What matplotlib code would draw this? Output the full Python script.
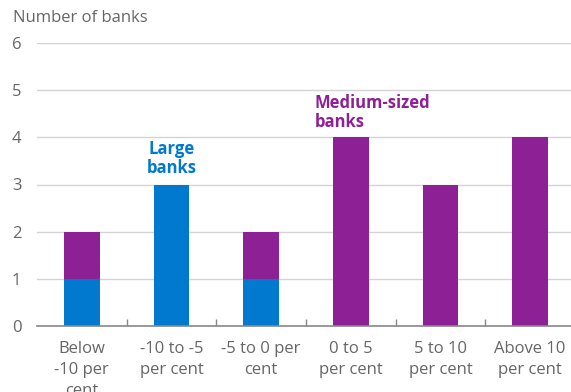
import matplotlib.pyplot as plt

# Data
categories = ['Below\n-10 per\ncent', '-10 to -5\nper cent', '-5 to 0 per\ncent',
              '0 to 5\nper cent', '5 to 10\nper cent', 'Above 10\nper cent']
large = [1, 3, 1, 0, 0, 0]
medium = [1, 0, 1, 4, 3, 4]

blue = '#0079cf'
purple = '#8e2096'
grey_text = '#666666'

plt.rcParams['font.family'] = ['Open Sans', 'DejaVu Sans']

fig = plt.figure(figsize=(5.71, 3.92), dpi=100)
ax = fig.add_axes([37 / 571, 1 - 326 / 392, 538 / 571, 283 / 392])

x = range(len(categories))
ax.bar(x, large, width=0.4, color=blue, zorder=3)
ax.bar(x, medium, width=0.4, bottom=large, color=purple, zorder=3)

ax.set_xlim(-0.5, 5.5)
ax.set_ylim(0, 6)
ax.set_yticks(range(7))
ax.yaxis.grid(True, color='#d4d4d4', linewidth=1, zorder=0)

# category labels centred, ticks between categories
ax.set_xticks(list(x))
ax.set_xticklabels(categories, fontsize=12, color=grey_text, linespacing=1.4)
ax.tick_params(axis='x', length=0, pad=11)
ax.set_xticks([i + 0.5 for i in range(5)], minor=True)
ax.tick_params(axis='x', which='minor', length=5, direction='in', color='#888888', width=1)
ax.tick_params(axis='y', length=0, labelsize=12, labelcolor=grey_text, pad=18)
for lab in ax.get_yticklabels():
    lab.set_horizontalalignment('left')

for side in ['top', 'right', 'left']:
    ax.spines[side].set_visible(False)
ax.spines['bottom'].set_color('#888888')
ax.spines['bottom'].set_linewidth(1.2)
ax.spines['bottom'].set_zorder(4)

ax.text(1, 3.15, 'Large\nbanks', color=blue, fontsize=12, fontweight='bold',
        ha='center', va='bottom', linespacing=1.1)
ax.text(2.6, 4.13, 'Medium-sized\nbanks', color=purple, fontsize=12, fontweight='bold',
        ha='left', va='bottom', linespacing=1.1)

fig.text(13 / 571, 1 - 18 / 392, 'Number of banks', fontsize=12, color=grey_text,
         ha='left', va='center')

fig.savefig('out.png', dpi=100)
